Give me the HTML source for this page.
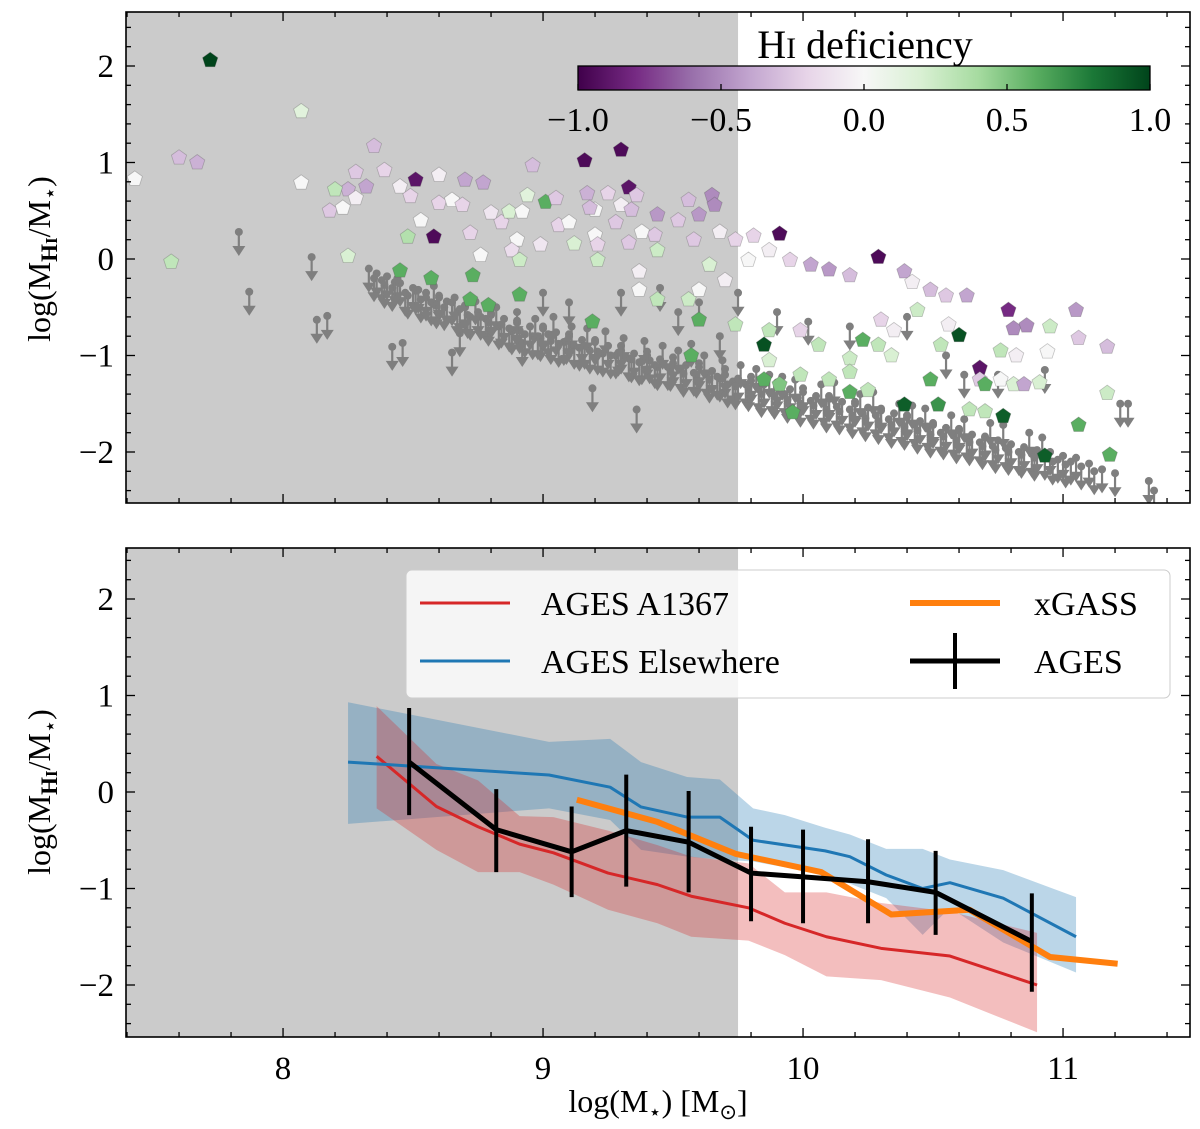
<!DOCTYPE html>
<html><head><meta charset="utf-8"><style>
html,body{margin:0;padding:0;background:#fff;}
svg{display:block;font-family:"Liberation Serif",serif;}
</style></head><body>
<svg id="chart" width="1200" height="1129" viewBox="0 0 1200 1129" xmlns="http://www.w3.org/2000/svg">
<defs>
<linearGradient id="prgn" x1="0" x2="1" y1="0" y2="0">
<stop offset="0" stop-color="#40004b"/><stop offset="0.1" stop-color="#762a83"/><stop offset="0.2" stop-color="#9970ab"/><stop offset="0.3" stop-color="#c2a5cf"/><stop offset="0.4" stop-color="#e7d4e8"/><stop offset="0.5" stop-color="#f7f7f7"/><stop offset="0.6" stop-color="#d9f0d3"/><stop offset="0.7" stop-color="#a6dba0"/><stop offset="0.8" stop-color="#5aae61"/><stop offset="0.9" stop-color="#1b7837"/><stop offset="1" stop-color="#00441b"/>
</linearGradient>
<clipPath id="clipTop"><rect x="126" y="12" width="1064" height="491"/></clipPath>
<clipPath id="clipBot"><rect x="126" y="548" width="1064" height="489"/></clipPath>
</defs>
<g id="top"></g>
<g id="bot"></g>
</svg>
<script>
// ---- data ----
const xTicks = [8, 9, 10, 11];
const yTicks = [-2, -1, 0, 1, 2];
const cbTicks = [-1.0, -0.5, 0.0, 0.5, 1.0];
const cbTickLabels = ["\u22121.0", "\u22120.5", "0.0", "0.5", "1.0"];
const massLimit = 9.75;
// detections: x, y, deficiency
const detX = [7.43,7.6,7.67,7.72,7.57,8.07,8.07,8.35,8.28,8.25,8.32,8.2,8.18,8.23,8.28,8.25,8.45,8.39,8.45,8.51,8.49,8.48,8.53,8.58,8.6,8.6,8.65,8.69,8.7,8.72,8.77,8.8,8.84,8.87,8.92,8.94,9.01,8.96,9.06,8.9,8.76,8.88,8.91,8.99,9.1,9.12,9.16,9.3,9.17,9.25,9.28,9.3,9.33,9.34,9.36,9.33,9.44,9.43,9.52,9.56,9.6,9.65,9.66,9.2,9.21,9.21,9.38,9.44,9.37,9.58,9.68,9.74,9.81,9.91,9.87,9.79,9.95,10.03,10.1,10.18,10.29,10.39,10.42,10.49,10.55,10.63,10.79,10.81,10.86,10.95,11.05,11.06,11.17,10.76,10.82,10.68,10.68,10.6,10.7,10.76,10.81,10.64,10.7,10.77,10.85,10.91,10.94,11.17,11.06,11.18,10.93,10.52,10.39,10.49,10.53,10.56,10.44,10.35,10.3,10.34,10.29,10.23,10.18,10.06,9.99,9.87,9.85,9.87,9.91,9.99,9.85,9.96,10.18,10.18,10.25,10.1,9.74,9.6,9.56,9.57,9.44,9.37,9.19,8.91,8.79,8.73,8.72,8.57,9.2,9.05,9.18,9.7,9.6,9.64];
const detY = [0.83,1.05,1.0,2.06,-0.03,1.53,0.79,1.17,0.9,0.72,0.75,0.72,0.5,0.53,0.63,0.03,-0.12,0.92,0.75,0.82,0.65,0.23,0.4,0.23,0.58,0.87,0.61,0.56,0.82,0.27,0.79,0.48,0.38,0.49,0.49,0.66,0.59,0.97,0.35,0.2,0.04,0.09,-0.01,0.15,0.38,0.16,1.02,1.13,0.68,0.68,0.38,0.56,0.74,0.51,0.66,0.17,0.46,0.25,0.4,0.61,0.46,0.66,0.56,0.25,0.15,-0.01,0.28,0.09,-0.13,0.2,0.28,0.2,0.24,0.26,0.09,-0.01,-0.01,-0.06,-0.11,-0.17,0.02,-0.13,-0.24,-0.32,-0.38,-0.38,-0.53,-0.72,-0.69,-0.7,-0.53,-0.82,-0.91,-0.95,-1.0,-1.13,-1.25,-0.79,-1.3,-1.25,-1.3,-1.56,-1.58,-1.63,-1.3,-1.28,-0.96,-1.39,-1.72,-2.03,-2.04,-1.51,-1.51,-1.25,-0.89,-0.68,-0.53,-0.74,-0.63,-1.0,-0.89,-0.84,-1.03,-0.89,-0.74,-0.74,-0.89,-1.05,-1.3,-1.2,-1.25,-1.59,-1.38,-1.17,-1.36,-1.25,-0.68,-0.63,-0.42,-1.0,-0.42,-0.32,-0.65,-0.37,-0.48,-0.17,-0.42,-0.2,0.51,0.63,0.53,-0.22,-0.32,-0.06];
const detDef = [0,-0.3,-0.35,1.0,0.3,0.15,0,-0.3,-0.25,-0.35,-0.4,0.3,-0.25,0,-0.05,0.2,0.6,-0.2,-0.05,-0.9,-0.2,0.35,0,-0.95,-0.2,-0.05,0,-0.2,-0.4,-0.2,-0.4,-0.1,-0.2,0.2,0,0.15,0.6,-0.3,-0.2,0,0,-0.15,0.25,-0.1,0,0.2,-0.95,-0.95,-0.35,-0.2,-0.25,-0.05,-0.9,-0.3,-0.25,-0.25,-0.45,-0.25,-0.25,-0.3,-0.45,-0.5,-0.5,0,-0.2,0.25,0,0.25,-0.05,-0.25,-0.05,-0.2,-0.2,-0.95,-0.05,0,-0.2,-0.4,-0.45,-0.3,-0.95,-0.4,-0.05,-0.3,-0.25,-0.4,-0.8,-0.5,-0.5,0.25,-0.45,-0.25,-0.3,0.3,-0.05,-0.9,-0.25,0.95,0.6,0,0.2,0.3,0.3,0.9,-0.4,0.2,0,0.25,0.6,0.6,0.9,0.7,0.9,0.6,0.3,-0.05,0.25,-0.05,-0.2,0.2,0.3,0.6,0.25,0.3,-0.2,0.3,0.95,0.2,0.5,0.3,0.6,0.6,0.6,0.3,0.3,0.3,0.3,0.6,0.25,0.6,0.3,0,0.6,0.6,0.6,0.6,0.6,0.6,0,-0.25,-0.3,-0.05,0,0.2];
// upper limits: x, y
const limX = [7.83,7.87,8.11,8.13,8.17,8.42,8.46,8.65,8.68,8.92,9.19,9.36,
8.33,8.36,8.38,8.4,8.42,8.45,8.48,8.5,8.53,8.55,8.57,8.6,8.62,8.65,8.67,8.7,8.72,8.75,8.78,8.8,8.83,8.85,8.88,8.9,8.93,8.95,8.98,9.0,9.03,9.05,9.08,9.1,9.12,9.15,9.18,9.2,9.23,9.25,9.28,9.3,9.33,9.35,9.38,9.4,9.43,9.45,9.48,9.5,9.53,9.55,9.58,9.6,9.63,9.65,9.68,9.7,9.73,9.75,9.78,9.8,9.83,9.85,9.88,9.9,9.93,9.95,9.98,10.0,10.03,10.05,10.08,10.1,10.13,10.15,10.18,10.2,10.23,10.25,10.28,10.3,10.33,10.35,10.38,10.4,10.43,10.45,10.48,10.5,10.53,10.55,10.58,10.6,10.63,10.65,10.68,10.7,10.73,10.75,10.78,10.8,10.83,10.85,10.88,10.9,10.93,10.95,10.98,11.0,11.03,11.05,11.1,11.15,11.2,
8.44,8.52,8.58,8.66,8.74,8.82,8.9,8.97,9.04,9.11,9.17,9.24,9.31,9.39,9.46,9.52,9.57,9.62,9.69,9.76,9.82,9.87,9.92,9.97,10.07,10.12,10.22,10.27,10.37,10.42,10.47,10.57,10.62,10.72,10.77,10.87,10.92,
9.3,9.45,9.6,9.75,9.9,10.02,10.18,10.4,10.55,10.62,10.75,10.93,11.22,11.25,11.33,11.35,9.52,9.68,9.1,9.0,
8.35,8.39,8.43,8.47,8.51,8.55,8.59,8.63,8.68,8.71,8.76,8.79,8.84,8.87,8.91,8.96,8.99,9.02,9.06,9.09,9.14,9.16,9.21,9.26,9.29,9.34,9.37,9.41,9.44,9.49,9.54,9.59,9.64,9.67,9.71,9.74,9.79,9.84,9.89,9.94,9.99,10.04,10.09,10.14,10.19,10.24,10.29,10.34,10.39,10.44,10.49,10.54,10.59,10.64,10.69,10.74,10.79,10.84,10.89,10.96,11.01,11.07,11.12,
8.6,8.7,8.8,8.9,9.0,9.1,9.2,9.3,9.4,9.5,9.6,9.7,9.8,9.9,10.0,10.1,10.2,10.3,10.4,10.5,10.6,10.7];
const limY = [0.28,-0.34,0.02,-0.63,-0.59,-0.91,-0.87,-0.97,-0.77,-0.87,-1.34,-1.56,
-0.1,-0.15,-0.22,-0.18,-0.3,-0.25,-0.38,-0.3,-0.42,-0.35,-0.45,-0.4,-0.5,-0.45,-0.55,-0.5,-0.6,-0.55,-0.62,-0.58,-0.7,-0.62,-0.75,-0.66,-0.78,-0.7,-0.8,-0.72,-0.85,-0.76,-0.86,-0.8,-0.9,-0.84,-0.95,-0.86,-0.98,-0.9,-1.0,-0.95,-1.03,-0.98,-1.06,-1.0,-1.1,-1.04,-1.12,-1.08,-1.15,-1.1,-1.18,-1.12,-1.2,-1.16,-1.24,-1.2,-1.27,-1.24,-1.3,-1.26,-1.35,-1.3,-1.38,-1.33,-1.4,-1.35,-1.44,-1.38,-1.47,-1.42,-1.5,-1.45,-1.53,-1.48,-1.56,-1.5,-1.6,-1.54,-1.62,-1.57,-1.66,-1.6,-1.7,-1.64,-1.72,-1.68,-1.76,-1.72,-1.8,-1.75,-1.83,-1.78,-1.86,-1.82,-1.9,-1.85,-1.94,-1.88,-1.96,-1.92,-2.0,-1.95,-2.02,-1.98,-2.05,-2.0,-2.08,-2.04,-2.1,-2.06,-2.12,-2.18,-2.22,
-0.2,-0.32,-0.28,-0.4,-0.44,-0.5,-0.55,-0.62,-0.6,-0.7,-0.72,-0.75,-0.82,-0.85,-0.9,-0.95,-0.88,-1.0,-1.05,-1.1,-1.14,-1.2,-1.22,-1.25,-1.3,-1.28,-1.4,-1.38,-1.5,-1.52,-1.55,-1.62,-1.66,-1.7,-1.72,-1.8,-1.85,
-0.35,-0.3,-0.45,-0.35,-0.55,-0.65,-0.7,-0.6,-1.0,-1.2,-1.2,-1.15,-1.5,-1.5,-2.3,-2.4,-0.55,-0.8,-0.45,-0.35,
-0.2,-0.27,-0.24,-0.35,-0.33,-0.4,-0.48,-0.44,-0.52,-0.58,-0.6,-0.66,-0.68,-0.72,-0.74,-0.8,-0.82,-0.78,-0.88,-0.85,-0.92,-0.9,-0.96,-1.0,-0.97,-1.04,-1.07,-1.05,-1.12,-1.13,-1.19,-1.2,-1.25,-1.22,-1.3,-1.32,-1.34,-1.4,-1.42,-1.46,-1.5,-1.52,-1.56,-1.58,-1.62,-1.65,-1.68,-1.72,-1.74,-1.78,-1.82,-1.84,-1.88,-1.9,-1.94,-1.98,-2.0,-2.03,-2.06,-2.1,-2.13,-2.15,-2.2,
-0.38,-0.48,-0.56,-0.64,-0.7,-0.78,-0.84,-0.9,-0.96,-1.02,-1.08,-1.14,-1.22,-1.28,-1.34,-1.42,-1.48,-1.55,-1.62,-1.7,-1.76,-1.84];
// bottom panel
const elsX = [8.25,8.485,9.023,9.258,9.377,9.554,9.68,9.808,10.085,10.18,10.32,10.46,10.565,10.77,11.05];
const elsY = [0.31,0.27,0.176,0.05,-0.155,-0.26,-0.26,-0.5,-0.61,-0.67,-0.86,-1.0,-0.94,-1.1,-1.5];
const elsBandX = [8.25,9.023,9.258,9.377,9.554,9.68,9.808,9.93,10.085,10.18,10.32,10.46,10.565,10.77,11.05];
const elsHi = [0.93,0.52,0.55,0.31,0.155,0.13,-0.17,-0.24,-0.37,-0.44,-0.59,-0.59,-0.7,-0.81,-1.09];
const elsLo = [-0.33,-0.17,-0.29,-0.6,-0.67,-0.7,-0.72,-0.78,-0.85,-0.95,-1.1,-1.48,-1.2,-1.56,-1.87];
const a1367X = [8.36,8.59,8.75,8.91,9.04,9.25,9.44,9.57,9.79,9.93,10.09,10.3,10.565,10.9];
const a1367Y = [0.37,-0.15,-0.36,-0.54,-0.63,-0.84,-0.96,-1.08,-1.2,-1.36,-1.5,-1.62,-1.7,-2.0];
const a1367Hi = [0.89,0.29,0.12,-0.25,-0.26,-0.4,-0.55,-0.67,-0.74,-1.04,-1.04,-1.15,-1.24,-1.46];
const a1367Lo = [-0.17,-0.6,-0.83,-0.83,-0.96,-1.22,-1.36,-1.5,-1.54,-1.69,-1.91,-1.95,-2.13,-2.49];
const xgX = [9.13,9.44,9.74,10.07,10.34,10.64,10.95,11.21];
const xgY = [-0.08,-0.31,-0.64,-0.83,-1.27,-1.22,-1.71,-1.78];
const agesX = [8.485,8.82,9.11,9.32,9.56,9.8,10.0,10.25,10.51,10.88];
const agesY = [0.31,-0.39,-0.62,-0.4,-0.52,-0.84,-0.88,-0.93,-1.04,-1.55];
const agesHi = [0.87,0.03,-0.15,0.18,0.01,-0.36,-0.39,-0.49,-0.61,-1.05];
const agesLo = [-0.24,-0.83,-1.09,-0.98,-1.04,-1.34,-1.36,-1.36,-1.48,-2.07];

// ---- scales ----
const L=126,R=1190;
const X = x => L + (x - 7.396) * 260;
const Yt = y => 259 - y * 96.5;
const Yb = y => 792 - y * 96.5;
const NS="http://www.w3.org/2000/svg";
function mk(tag, attrs, parent){const e=document.createElementNS(NS,tag);for(const k in attrs)e.setAttribute(k,attrs[k]);parent.appendChild(e);return e;}
const stops=[[64,0,75],[118,42,131],[153,112,171],[194,165,207],[231,212,232],[247,247,247],[217,240,211],[166,219,160],[90,174,97],[27,120,55],[0,68,27]];
function cmap(v){let t=(v+1)/2*10;t=Math.max(0,Math.min(10,t));const i=Math.min(9,Math.floor(t)),f=t-i;const a=stops[i],b=stops[i+1];return `rgb(${a.map((c,j)=>Math.round(c+(b[j]-c)*f)).join(',')})`;}

function panel(g, top, bot, Y, clip, name){
  mk('rect',{x:L,y:top,width:R-L,height:bot-top,fill:'#fff'},g);
  const sh=mk('rect',{x:L,y:top,width:X(massLimit)-L,height:bot-top,fill:'#cbcbcb'},g);
  
  
  const plot=mk('g',{'clip-path':`url(#${clip})`},g);
  return plot;
}
function axes(g, top, bot, Y, showX, name){
  const ax=mk('g',{},g);
  
  
  mk('rect',{x:L,y:top,width:R-L,height:bot-top,fill:'none',stroke:'#000','stroke-width':1.6},ax);
  for(let v=7.4;v<=11.49;v+=0.2){const vv=Math.round(v*10)/10;const px=X(vv);if(px<L+1||px>R-1)continue;const maj=Math.abs(vv-Math.round(vv))<1e-6;const len=maj?9:5;
    mk('line',{x1:px,x2:px,y1:bot,y2:bot-len,stroke:'#000','stroke-width':1.3},ax);
    mk('line',{x1:px,x2:px,y1:top,y2:top+len,stroke:'#000','stroke-width':1.3},ax);}
  for(let v=-2.4;v<=2.41;v+=0.2){const vv=Math.round(v*10)/10;const py=Y(vv);if(py<top+1||py>bot-1)continue;const maj=Math.abs(vv-Math.round(vv))<1e-6;const len=maj?9:5;
    mk('line',{x1:L,x2:L+len,y1:py,y2:py,stroke:'#000','stroke-width':1.3},ax);
    mk('line',{x1:R,x2:R-len,y1:py,y2:py,stroke:'#000','stroke-width':1.3},ax);}
  yTicks.forEach((t,i)=>{const e=mk('text',{x:L-12,y:Y(t)+11,'text-anchor':'end','font-size':33},ax);e.textContent=t<0?'\u2212'+Math.abs(t):String(t);
    
    });
  if(showX){xTicks.forEach(t=>{const e=mk('text',{x:X(t),y:bot+42,'text-anchor':'middle','font-size':33},ax);e.textContent=String(t);
    
    });}
  const cy=Y(0);
  const yl=mk('text',{transform:`translate(50,${cy}) rotate(-90)`,'text-anchor':'middle','font-size':32},ax);
  
  
  yl.innerHTML='log(M<tspan font-size="23" dy="7" font-weight="bold">H<tspan font-size="17">I</tspan></tspan><tspan dy="-7">/M</tspan><tspan font-size="21" dy="7">\u22c6</tspan><tspan dy="-7">)</tspan>';
}

// ---- top panel ----
const gt=document.getElementById('top');
const pt=panel(gt,12,503,Yt,'clipTop','top');
limX.forEach((x,i)=>{const px=X(x),py=Yt(limY[i]);
  const g=mk('g',{fill:'#7f7f7f',stroke:'#7f7f7f'},pt);
  
  
  mk('circle',{cx:px,cy:py,r:4,stroke:'none'},g);
  mk('line',{x1:px,x2:px,y1:py,y2:py+18,'stroke-width':2.2},g);
  mk('path',{d:`M${px-6.5},${py+14} L${px+6.5},${py+14} L${px},${py+24} Z`,stroke:'none'},g);
});
detX.forEach((x,i)=>{const px=X(x),py=Yt(detY[i]);const r=8;let pts=[];
  for(let k=0;k<5;k++){const a=-Math.PI/2+k*2*Math.PI/5;pts.push((px+r*Math.cos(a)).toFixed(1)+','+(py+r*Math.sin(a)).toFixed(1));}
  const p=mk('polygon',{points:pts.join(' '),fill:cmap(detDef[i]),stroke:'rgba(90,90,90,0.35)','stroke-width':0.8},pt);
  
  
});
axes(gt,12,503,Yt,false,'top');
// colorbar
const cb=mk('g',{},gt);


const cbX0=578,cbX1=1150;
mk('rect',{x:cbX0,y:66,width:cbX1-cbX0,height:24,fill:'url(#prgn)',stroke:'#000','stroke-width':1.3},cb);
cbTicks.forEach((t,i)=>{const px=cbX0+(t+1)/2*(cbX1-cbX0);
  mk('line',{x1:px,x2:px,y1:90,y2:84,stroke:'#000','stroke-width':1.3},cb);
  const e=mk('text',{x:px,y:131,'text-anchor':'middle','font-size':34},cb);e.textContent=cbTickLabels[i];
  
  });
const cbt=mk('text',{x:865,y:58,'text-anchor':'middle','font-size':40},cb);


cbt.innerHTML='H<tspan font-size="30">I</tspan> deficiency';

// ---- bottom panel ----
const gb=document.getElementById('bot');
const pb=panel(gb,548,1037,Yb,'clipBot','bottom');
function band(xs,hi,lo,color,name){const d=xs.map((x,i)=>(i?'L':'M')+X(x)+','+Yb(hi[i])).join(' ')+' '+xs.slice().reverse().map((x,i)=>'L'+X(x)+','+Yb(lo[xs.length-1-i])).join(' ')+' Z';
  const p=mk('path',{d:d,fill:color,'fill-opacity':0.3,stroke:'none'},pb);
  
  }
function line(xs,ys,color,w,name){const d=xs.map((x,i)=>(i?'L':'M')+X(x)+','+Yb(ys[i])).join(' ');
  const p=mk('path',{d:d,fill:'none',stroke:color,'stroke-width':w,'stroke-linejoin':'round'},pb);
  
  }
band(elsBandX,elsHi,elsLo,'#1f77b4','elsewhere-band');
band(a1367X,a1367Hi,a1367Lo,'#d62728','a1367-band');
line(a1367X,a1367Y,'#d62728',3,'a1367-line');
line(elsX,elsY,'#1f77b4',3,'elsewhere-line');
line(xgX,xgY,'#ff7f0e',6,'xgass-line');
line(agesX,agesY,'#000',5,'ages-line');
agesX.forEach((x,i)=>{const e=mk('line',{x1:X(x),x2:X(x),y1:Yb(agesHi[i]),y2:Yb(agesLo[i]),stroke:'#000','stroke-width':4},pb);
  
  });
axes(gb,548,1037,Yb,true,'bottom');
// legend
const lg=mk('g',{},gb);


mk('rect',{x:406,y:570,width:764,height:128,rx:6,fill:'#fff','fill-opacity':0.8,stroke:'#ccc','stroke-width':1},lg);
const ents=[[420,603,'#d62728',3,'AGES A1367','legend-a1367'],[420,661,'#1f77b4',3,'AGES Elsewhere','legend-elsewhere'],[910,603,'#ff7f0e',6,'xGASS','legend-xgass'],[910,661,'#000',5,'AGES','legend-ages']];
ents.forEach(e=>{const g=mk('g',{},lg);
  
  
  mk('line',{x1:e[0],x2:e[0]+90,y1:e[1],y2:e[1],stroke:e[2],'stroke-width':e[3]},g);
  if(e[4]==='AGES')mk('line',{x1:e[0]+45,x2:e[0]+45,y1:e[1]-28,y2:e[1]+28,stroke:'#000','stroke-width':4},g);
  const t=mk('text',{x:e[0]+(e[0]<500?121:124),y:e[1]+12,'font-size':34},g);t.textContent=e[4];});
// x label
const xl=mk('text',{x:658,y:1112,'text-anchor':'middle','font-size':32},gb);


xl.innerHTML='log(M<tspan font-size="21" dy="7">\u22c6</tspan><tspan dy="-7">) [M</tspan><tspan font-size="21" dy="7">\u2299</tspan><tspan dy="-7">]</tspan>';
</script>
</body></html>
